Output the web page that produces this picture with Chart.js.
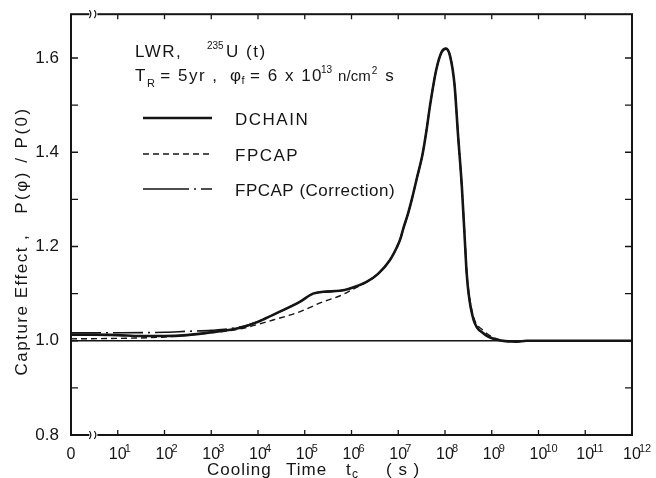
<!DOCTYPE html>
<html>
<head>
<meta charset="utf-8">
<script src="https://cdn.jsdelivr.net/npm/chart.js@4"></script>
<style>
  html, body { margin: 0; padding: 0; background: #fff; }
  #wrap { width: 656px; height: 478px; }
</style>
</head>
<body>
<div id="wrap"><canvas id="capChart" width="656" height="478"></canvas></div>
<script>
// cooling time (s) -- "0" on the axis is drawn at t = 1
var dchainT = [1, 3, 1e1, 3e1, 1e2, 3e2, 1e3, 4e3, 1e4, 2.1e4, 8e4, 1.5e5, 2.5e5, 5.6e5, 9.3e5, 2.1e6, 3.7e6, 6.6e6,
  9.3e6, 1.1e7, 1.3e7, 1.6e7, 1.95e7, 2.5e7, 3.3e7, 4e7, 4.8e7, 6.5e7, 8.5e7, 1.05e8, 1.3e8, 1.6e8, 1.9e8, 2.3e8,
  2.7e8, 2.9e8, 3.2e8, 4.1e8, 6.6e8, 1.3e9, 3.4e9, 5.6e9, 1e10, 1e12];
var dchainV = [1.013, 1.013, 1.012, 1.010, 1.010, 1.012, 1.018, 1.027, 1.040, 1.055, 1.083, 1.100, 1.104, 1.106, 1.111, 1.125, 1.142, 1.171,
  1.198, 1.215, 1.240, 1.268, 1.300, 1.345, 1.395, 1.445, 1.500, 1.575, 1.613, 1.620, 1.602, 1.543, 1.437, 1.325,
  1.200, 1.145, 1.100, 1.044, 1.016, 1.002, 0.998, 1.000, 1.000, 1.000];

var fpcapT = [1, 1e1, 1e2, 1e3, 4e3, 2.1e4, 8e4, 2.5e5, 5.6e5, 9.3e5, 2.1e6, 3.7e6, 6.6e6,
  9.3e6, 1.1e7, 1.3e7, 1.6e7, 1.95e7, 2.5e7, 3.3e7, 4e7, 4.8e7, 6.5e7, 8.5e7, 1.05e8, 1.3e8, 1.6e8, 1.9e8, 2.3e8,
  2.7e8, 2.9e8, 3.2e8, 4.1e8, 6.6e8, 1.3e9, 3.4e9, 5.6e9, 1e12];
var fpcapV = [1.004, 1.005, 1.008, 1.017, 1.025, 1.044, 1.062, 1.083, 1.095, 1.106, 1.125, 1.142, 1.171,
  1.198, 1.215, 1.240, 1.268, 1.300, 1.345, 1.395, 1.445, 1.500, 1.575, 1.613, 1.620, 1.602, 1.543, 1.437, 1.325,
  1.205, 1.150, 1.106, 1.050, 1.022, 1.004, 0.998, 1.000, 1.000];

var corrT = [1, 1e1, 1e2, 3e2, 1e3, 4e3, 1e4, 2.1e4, 8e4, 1.5e5, 2.5e5, 5.6e5, 9.3e5, 2.1e6, 3.7e6, 6.6e6,
  9.3e6, 1.1e7, 1.3e7, 1.6e7, 1.95e7, 2.5e7, 3.3e7, 4e7, 4.8e7, 6.5e7, 8.5e7, 1.05e8, 1.3e8, 1.6e8, 1.9e8, 2.3e8,
  2.7e8, 2.9e8, 3.2e8, 4.1e8, 6.6e8, 1.3e9, 3.4e9, 5.6e9, 1e12];
var corrV = [1.017, 1.017, 1.018, 1.020, 1.022, 1.029, 1.041, 1.055, 1.083, 1.100, 1.104, 1.106, 1.111, 1.125, 1.142, 1.171,
  1.198, 1.215, 1.240, 1.268, 1.300, 1.345, 1.395, 1.445, 1.500, 1.575, 1.613, 1.620, 1.602, 1.543, 1.437, 1.325,
  1.200, 1.145, 1.100, 1.044, 1.016, 1.002, 0.998, 1.000, 1.000];

var refT = [1, 1e12];
var refV = [1.0, 1.0];

var xDecades = [1, 2, 3, 4, 5, 6, 7, 8, 9, 10, 11, 12];
var yLabels = [0.8, 1.0, 1.2, 1.4, 1.6];
var yMinor = [0.9, 1.0, 1.1, 1.2, 1.3, 1.4, 1.5, 1.6];
var seriesNames = ['DCHAIN', 'FPCAP', 'FPCAP (Correction)'];

var INK = '#151515';
var FONT = '"Liberation Sans", Arial, sans-serif';

function pts(t, v) {
  return t.map(function (x, i) { return { x: x, y: v[i] }; });
}

function font(ctx, size) { ctx.font = size + 'px ' + FONT; }

// writes pieces one after another: [text, size, baselineShift, gapAfter]
function run(ctx, x, y, parts) {
  parts.forEach(function (p) {
    font(ctx, p[1]);
    ctx.fillText(p[0], x, y + p[2]);
    x += ctx.measureText(p[0]).width + (p[3] || 0);
  });
}

// frame, inward ticks, labels and annotations
var decor = {
  id: 'decor',
  afterDatasetsDraw: function (chart) {
    var ctx = chart.ctx, a = chart.chartArea;
    var xs = chart.scales.x, ys = chart.scales.y;
    ctx.save();
    ctx.strokeStyle = INK;
    ctx.fillStyle = INK;
    ctx.setLineDash([]);

    ctx.lineWidth = 2;
    ctx.strokeRect(a.left, a.top, a.right - a.left, a.bottom - a.top);

    ctx.lineWidth = 1.3;
    xDecades.slice(0, -1).forEach(function (e) {
      var px = xs.getPixelForValue(Math.pow(10, e));
      ctx.beginPath();
      ctx.moveTo(px, a.bottom); ctx.lineTo(px, a.bottom - 5);
      ctx.moveTo(px, a.top); ctx.lineTo(px, a.top + 5);
      ctx.stroke();
    });
    yMinor.forEach(function (v) {
      var py = ys.getPixelForValue(v);
      ctx.beginPath();
      ctx.moveTo(a.left, py); ctx.lineTo(a.left + 7, py);
      ctx.moveTo(a.right, py); ctx.lineTo(a.right - 7, py);
      ctx.stroke();
    });

    // axis break marks
    var bx = (xs.getPixelForValue(1) + xs.getPixelForValue(10)) / 2 - 1;
    [a.top, a.bottom].forEach(function (by) {
      ctx.fillStyle = '#fff';
      ctx.fillRect(bx - 4, by - 2, 8, 4);
      ctx.fillStyle = INK;
      ctx.lineWidth = 1.2;
      ctx.beginPath();
      ctx.moveTo(bx - 4, by - 4); ctx.quadraticCurveTo(bx - 1, by, bx - 4, by + 4);
      ctx.moveTo(bx + 1, by - 4); ctx.quadraticCurveTo(bx + 4, by, bx + 1, by + 4);
      ctx.stroke();
    });

    // x tick labels
    ctx.textBaseline = 'alphabetic';
    ctx.textAlign = 'center';
    font(ctx, 16);
    ctx.fillText('0', xs.getPixelForValue(1), 459);
    xDecades.forEach(function (e) {
      var px = xs.getPixelForValue(Math.pow(10, e));
      font(ctx, 16);
      ctx.textAlign = 'center';
      ctx.fillText('10', px, 459);
      font(ctx, 11);
      ctx.textAlign = 'left';
      ctx.fillText(String(e), px + 7, 452);
    });

    // x title
    ctx.textAlign = 'left';
    font(ctx, 17);
    ctx.letterSpacing = '1px';
    ctx.fillText('Cooling', 207, 475);
    ctx.fillText('Time', 286, 475);
    ctx.fillText('t', 346, 475);
    ctx.fillText('( s )', 386, 475);
    font(ctx, 12);
    ctx.fillText('c', 352, 478);

    // y title
    ctx.save();
    ctx.translate(27, 0);
    ctx.rotate(-Math.PI / 2);
    ctx.textAlign = 'center';
    font(ctx, 17);
    ctx.letterSpacing = '1.5px';
    ctx.fillText('Capture', -340, 0);
    ctx.fillText('Effect ,', -266, 0);
    ctx.letterSpacing = '2.5px';
    ctx.fillText('P(\u03C6) / P(0)', -160, 0);
    ctx.restore();

    // annotation
    ctx.textAlign = 'left';
    ctx.letterSpacing = '1.5px';
    run(ctx, 135, 57, [['LWR,', 17, 0]]);
    ctx.letterSpacing = '0px';
    run(ctx, 207, 57, [['235', 10, -8, 1]]);
    ctx.letterSpacing = '1.5px';
    run(ctx, 226, 57, [['U (t)', 17, 0]]);

    run(ctx, 135, 81, [['T', 17, 0, 0], ['R', 11, 6, 4], ['= 5yr ,', 17, 0]]);
    run(ctx, 230, 81, [['\u03C6', 17, 0, -1], ['f', 11, 3, 4], ['= 6 x 10', 17, 0, 0]]);
    ctx.letterSpacing = '0px';
    run(ctx, 321, 81, [['13', 10, -8, 6], ['n/cm', 15, 0, 1], ['2', 10, -7, 8], ['s', 17, 0]]);

    // legend
    var rows = [118, 154, 189];
    chart.data.datasets.slice(0, 3).forEach(function (ds, i) {
      ctx.strokeStyle = INK;
      ctx.lineWidth = ds.borderWidth;
      ctx.setLineDash(i === 2 ? [46, 5, 2, 5] : (ds.borderDash || []));
      ctx.beginPath();
      ctx.moveTo(143, rows[i]); ctx.lineTo(212, rows[i]);
      ctx.stroke();
      ctx.setLineDash([]);
      font(ctx, 17);
      ctx.letterSpacing = i === 2 ? '0.5px' : '1.5px';
      ctx.fillText(ds.label, 235, rows[i] + 7);
    });
    ctx.restore();
  }
};

new Chart(document.getElementById('capChart'), {
  type: 'line',
  data: {
    datasets: [
      { label: seriesNames[0], data: pts(dchainT, dchainV), borderColor: INK, borderWidth: 2.6 },
      { label: seriesNames[1], data: pts(fpcapT, fpcapV), borderColor: INK, borderWidth: 1.4, borderDash: [6, 4] },
      { label: seriesNames[2], data: pts(corrT, corrV), borderColor: INK, borderWidth: 1.6, borderDash: [30, 5, 2, 5] },
      { label: 'ref', data: pts(refT, refV), borderColor: INK, borderWidth: 1.5, tension: 0 }
    ]
  },
  options: {
    responsive: false,
    animation: false,
    events: [],
    layout: { padding: { top: 12, right: 24, left: 0, bottom: 0 } },
    elements: {
      point: { radius: 0 },
      line: { cubicInterpolationMode: 'monotone', fill: false }
    },
    plugins: { legend: { display: false }, tooltip: { enabled: false } },
    scales: {
      x: {
        type: 'logarithmic',
        min: 1, max: 1e12,
        grid: { display: false },
        border: { display: false },
        ticks: { display: false },
        afterFit: function (s) { s.height = 43; }
      },
      y: {
        min: 0.8, max: 1.693,
        grid: { display: false },
        border: { display: false },
        afterBuildTicks: function (s) { s.ticks = yLabels.map(function (v) { return { value: v }; }); },
        ticks: {
          padding: 4,
          color: INK,
          font: { family: FONT, size: 17 },
          callback: function (v) { return v.toFixed(1); }
        },
        afterFit: function (s) { s.width = 71; }
      }
    }
  },
  plugins: [decor]
});
</script>
</body>
</html>
